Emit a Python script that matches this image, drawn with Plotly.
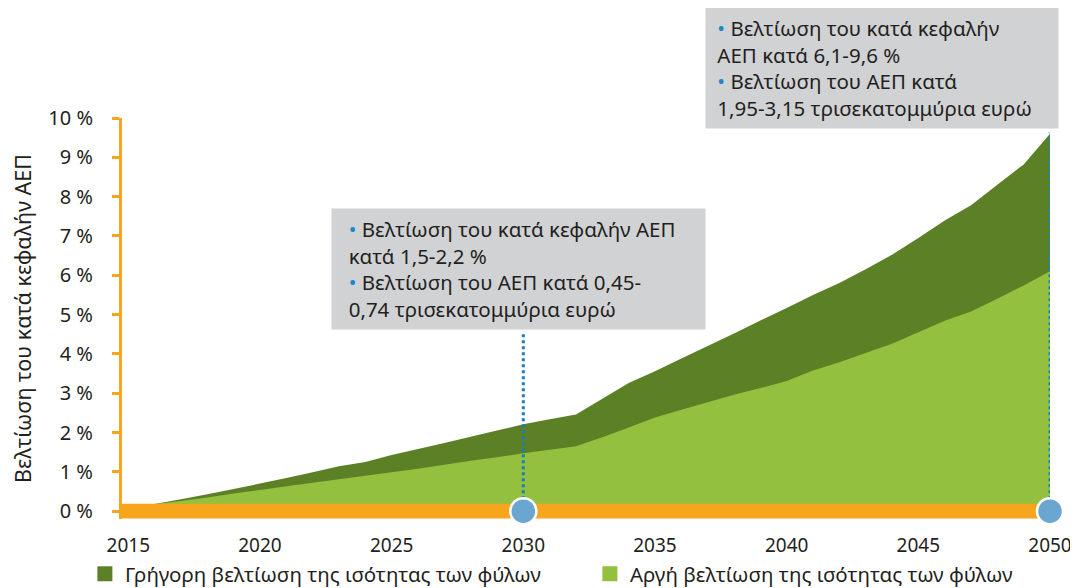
import plotly.graph_objects as go

years = list(range(2016, 2051))
fast = [0.18, 0.30, 0.43, 0.56, 0.70, 0.84, 0.99, 1.14, 1.25, 1.43, 1.58, 1.73, 1.89, 2.05, 2.21, 2.34, 2.46,
        2.86, 3.26, 3.56, 3.88, 4.20, 4.52, 4.85, 5.17, 5.50, 5.80, 6.15, 6.52, 6.95, 7.39, 7.78, 8.30, 8.82, 9.60]
slow = [0.18, 0.26, 0.35, 0.45, 0.54, 0.63, 0.72, 0.81, 0.90, 0.99, 1.08, 1.18, 1.28, 1.37, 1.47, 1.56, 1.65,
        1.88, 2.13, 2.38, 2.58, 2.77, 2.96, 3.13, 3.31, 3.58, 3.79, 4.02, 4.26, 4.55, 4.84, 5.08, 5.40, 5.74, 6.10]

series_names = ["Γρήγορη βελτίωση της ισότητας των φύλων", "Αργή βελτίωση της ισότητας των φύλων"]
milestones = [2030, 2050]
box_bottoms = [4.62, 9.71]  # value where the callout box sits
box_left_years = [2022.70, 2036.90]
B = "<span style='color:#1b87c9'>•</span>"
box_lines = [
    [B + " Βελτίωση του κατά κεφαλήν ΑΕΠ", "κατά 1,5-2,2 %", B + " Βελτίωση του ΑΕΠ κατά 0,45-",
     "0,74 τρισεκατομμύρια ευρώ"],
    [B + " Βελτίωση του κατά κεφαλήν", "ΑΕΠ κατά 6,1-9,6 %", B + " Βελτίωση του ΑΕΠ κατά",
     "1,95-3,15 τρισεκατομμύρια ευρώ"],
]
box_indent = ["\u00a0\u00a0", "\u00a0"]
box_widths = [361, 340]
y_ticks = list(range(0, 11))
y_tick_labels = [f"{v} %" for v in y_ticks]
x_ticks = list(range(2015, 2051, 5))

X_MIN, X_MAX = 2014.76, 2050
Y_MIN, Y_MAX = -0.2, 10
BAND = 0.19

DARK = "#5c8025"
LIGHT = "#93c03e"
ORANGE = "#f6a51d"
TXT = "#231f20"
FONT = "Noto Sans"

fig = go.Figure()
fig.add_trace(go.Scatter(x=years, y=fast, fill="tozeroy", mode="none", fillcolor=DARK,
                         showlegend=False, hoverinfo="skip"))
fig.add_trace(go.Scatter(x=years, y=slow, fill="tozeroy", mode="none", fillcolor=LIGHT,
                         showlegend=False, hoverinfo="skip"))
# orange baseline band
fig.add_trace(go.Scatter(x=[X_MIN, X_MAX, X_MAX, X_MIN, X_MIN], y=[-BAND, -BAND, BAND, BAND, -BAND],
                         fill="toself", mode="none", fillcolor=ORANGE, showlegend=False, hoverinfo="skip"))
# dotted connectors
for yr, bot in zip(milestones, box_bottoms):
    fig.add_trace(go.Scatter(x=[yr, yr], y=[0, bot - 0.08], mode="lines",
                             line=dict(color="#1a7dbf", width=3, dash="dot"), cliponaxis=False,
                             showlegend=False, hoverinfo="skip"))
fig.add_trace(go.Scatter(x=milestones, y=[0] * len(milestones), mode="markers",
                         marker=dict(size=26, color="#6aa6d0", line=dict(color="white", width=2.5)),
                         showlegend=False, hoverinfo="skip", cliponaxis=False))
# legend entries
for name, col in zip(series_names, [DARK, LIGHT]):
    fig.add_trace(go.Scatter(x=[None], y=[None], mode="markers", name=name,
                             marker=dict(symbol="square", size=15, color=col)))

for xl, yb, lines, ind, w in zip(box_left_years, box_bottoms, box_lines, box_indent, box_widths):
    txt = "<br>".join(ind + ln for ln in lines)
    fig.add_annotation(x=xl, y=yb, xref="x", yref="y", xanchor="left", yanchor="bottom",
                       text=txt, align="left", showarrow=False, bgcolor="#d1d2d4",
                       width=w, borderpad=6, font=dict(family=FONT, size=20.5, color=TXT))

# page body adds an 8px offset, so the figure is 1070x580 and margins are shifted by 8px
fig.update_layout(
    width=1070, height=580,
    margin=dict(l=114, r=28, t=110, b=69, autoexpand=False),
    plot_bgcolor="white", paper_bgcolor="white",
    font=dict(family=FONT, size=18, color=TXT),
    showlegend=True,
    legend=dict(orientation="h", x=-0.040, xanchor="left", y=-0.137, yanchor="middle",
                font=dict(family=FONT, size=20.5, color=TXT), itemwidth=30,
                entrywidth=460, entrywidthmode="pixels", bgcolor="rgba(0,0,0,0)"),
)
fig.update_xaxes(range=[X_MIN, X_MAX], tickvals=x_ticks, showline=False, showgrid=False,
                 zeroline=False, ticks="", tickfont=dict(size=19, color=TXT), ticklabelstandoff=13)
fig.update_yaxes(range=[Y_MIN, Y_MAX], tickvals=y_ticks, ticktext=y_tick_labels, showgrid=False,
                 zeroline=False, showline=True, linecolor=ORANGE, linewidth=3,
                 ticks="outside", ticklen=7, tickwidth=2.5, tickcolor=ORANGE,
                 tickfont=dict(size=20, color=TXT), ticklabelstandoff=15,
                 title=dict(text="Βελτίωση του κατά κεφαλήν ΑΕΠ", font=dict(size=21.5, color=TXT), standoff=14))

fig.write_html("out.html")
